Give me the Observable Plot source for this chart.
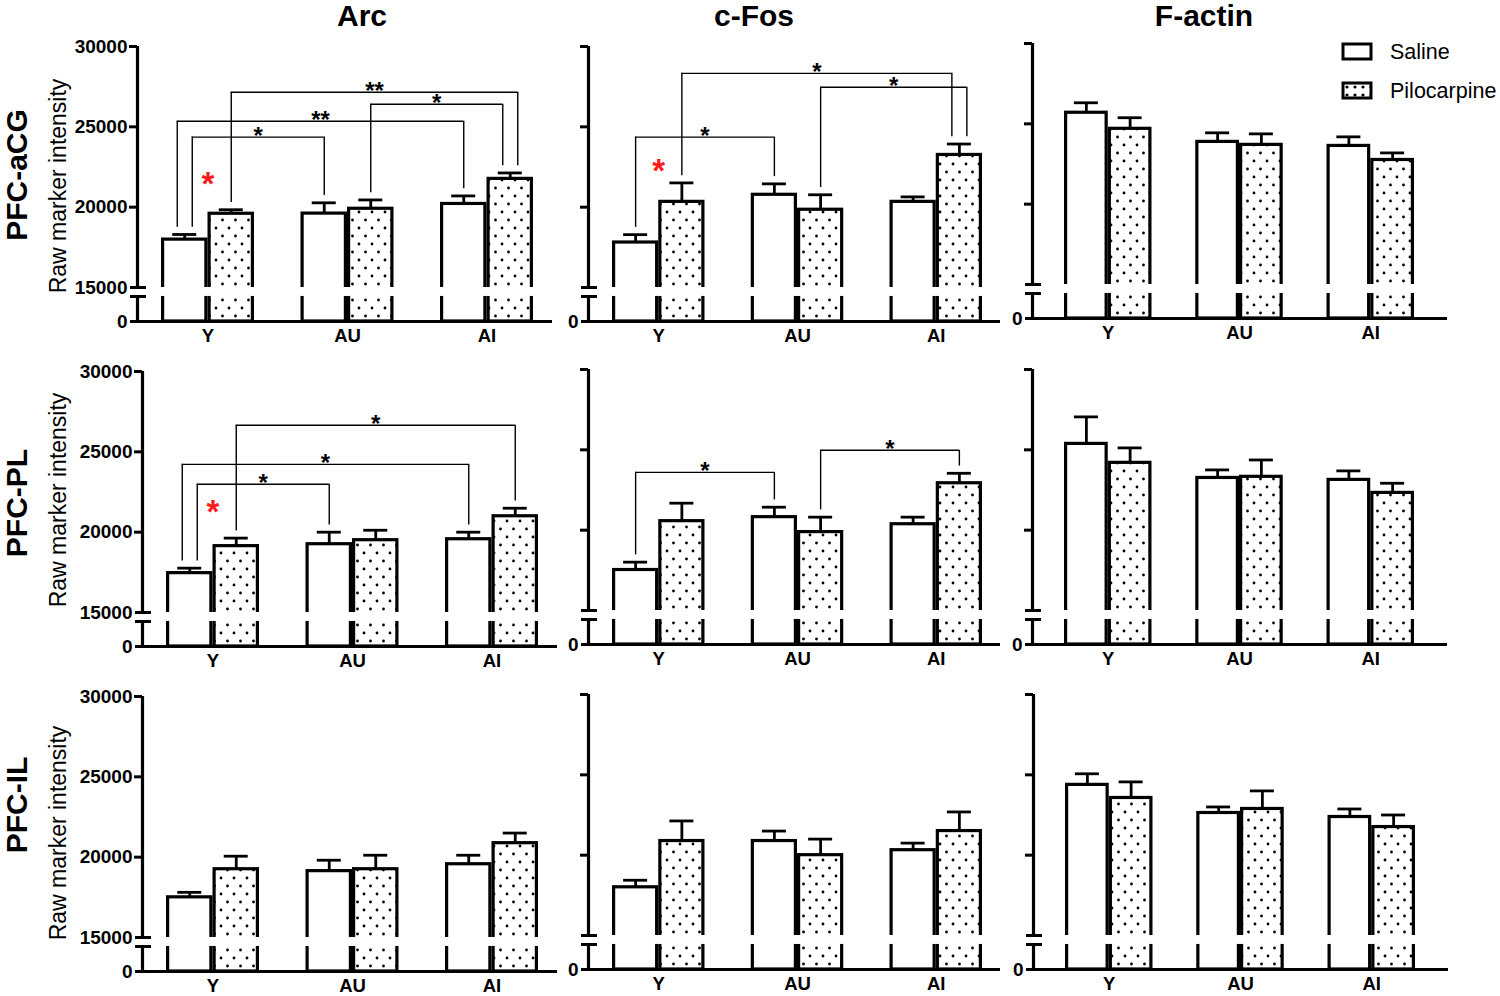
<!DOCTYPE html>
<html>
<head>
<meta charset="utf-8">
<script src="https://cdn.jsdelivr.net/npm/d3@7"></script>
<script src="https://cdn.jsdelivr.net/npm/@observablehq/plot@0.6"></script>
<style>
  html, body { margin: 0; padding: 0; background: #fff; }
  #figure { position: relative; width: 1500px; height: 996px; overflow: hidden; font-family: "Liberation Sans", Arial, sans-serif; }
  .panel { position: absolute; }
  #overlay { position: absolute; left: 0; top: 0; }
</style>
</head>
<body>
<div id="figure">
  <svg id="overlay" width="1500" height="996" xmlns="http://www.w3.org/2000/svg">
    <defs>
      <pattern id="dots" width="13" height="16" patternUnits="userSpaceOnUse">
        <rect width="13" height="16" fill="white"></rect>
        <circle cx="3" cy="4" r="1.4" fill="black"></circle>
        <circle cx="9.5" cy="12" r="1.4" fill="black"></circle>
      </pattern>
      <pattern id="dotsSmall" width="8" height="8" patternUnits="userSpaceOnUse">
        <rect width="8" height="8" fill="white"></rect>
        <circle cx="4" cy="4" r="1.6" fill="black"></circle>
      </pattern>
    </defs>
  </svg>
</div>
<script>
// ---------------- data ----------------
const markers = ["Arc", "c-Fos", "F-actin"];
const regions = ["PFC-aCG", "PFC-PL", "PFC-IL"];
const groups = ["Y", "AU", "AI"];
const treatments = ["Saline", "Pilocarpine"];
const yTicks = [0, 15000, 20000, 25000, 30000];
const yAxisLabel = "Raw marker intensity";

// means and SEM, ordered Y-Saline, Y-Pilocarpine, AU-Saline, AU-Pilocarpine, AI-Saline, AI-Pilocarpine
const arcACGMean    = [17980, 19590, 19600, 19900, 20200, 21760];
const arcACGSem     = [320, 250, 670, 550, 500, 370];
const cfosACGMean   = [17800, 20330, 20770, 19840, 20330, 23250];
const cfosACGSem    = [490, 1180, 680, 930, 310, 680];
const factinACGMean = [25690, 24690, 23875, 23690, 23625, 22750];
const factinACGSem  = [620, 690, 565, 685, 565, 440];

const arcPLMean     = [17450, 19130, 19250, 19500, 19560, 20990];
const arcPLSem      = [310, 500, 750, 620, 440, 500];
const cfosPLMean    = [17520, 20560, 20810, 19880, 20370, 22920];
const cfosPLSem     = [490, 1120, 620, 930, 440, 620];
const factinPLMean  = [25370, 24190, 23250, 23320, 23130, 22320];
const factinPLSem   = [1680, 930, 500, 1050, 560, 600];

const arcILMean     = [17500, 19250, 19130, 19250, 19560, 20870];
const arcILSem      = [310, 810, 680, 870, 560, 630];
const cfosILMean    = [18000, 20880, 20880, 20000, 20310, 21500];
const cfosILSem     = [440, 1250, 620, 1000, 440, 1190];
const factinILMean  = [24375, 23560, 22625, 22875, 22375, 21750];
const factinILSem   = [690, 1000, 375, 1125, 500, 750];

// significance brackets (level = height of the horizontal line, in intensity units)
const arcACGBrackets = [
  {from: ["Y", "Saline"], to: ["AI", "Saline"], level: 25350, label: "**"},
  {from: ["Y", "Saline"], to: ["AU", "Saline"], level: 24360, label: "*"},
  {from: ["AU", "Pilocarpine"], to: ["AI", "Pilocarpine"], level: 26410, label: "*"},
  {from: ["Y", "Pilocarpine"], to: ["AI", "Pilocarpine"], level: 27150, label: "**"}
];
const cfosACGBrackets = [
  {from: ["Y", "Pilocarpine"], to: ["AI", "Pilocarpine"], level: 28330, label: "*"},
  {from: ["AU", "Pilocarpine"], to: ["AI", "Pilocarpine"], level: 27460, label: "*"},
  {from: ["Y", "Saline"], to: ["AU", "Saline"], level: 24360, label: "*"}
];
const arcPLBrackets = [
  {from: ["Y", "Saline"], to: ["AI", "Saline"], level: 24220, label: "*"},
  {from: ["Y", "Saline"], to: ["AU", "Saline"], level: 22980, label: "*"},
  {from: ["Y", "Pilocarpine"], to: ["AI", "Pilocarpine"], level: 26650, label: "*"}
];
const cfosPLBrackets = [
  {from: ["Y", "Saline"], to: ["AU", "Saline"], level: 23600, label: "*"},
  {from: ["AU", "Pilocarpine"], to: ["AI", "Pilocarpine"], level: 24970, label: "*"}
];
// red asterisks (Saline vs Pilocarpine within a group)
const arcACGRed  = [{group: "Y", level: 22000}];
const cfosACGRed = [{group: "Y", level: 22810}];
const arcPLRed   = [{group: "Y", level: 21800}];

// ---------------- layout ----------------
const FONT = '"Liberation Sans", Arial, sans-serif';
const layout = {
  top:   [[46, 46, 43], [371, 369, 369], [696, 694, 694]],
  axisX: [[137, 588, 1032], [142, 588, 1032], [142, 588, 1033]],
  slotOffset: [24, 24, 32],
  slotsWidth: [372, 370, 350],
  frameW: [415, 412, 415]
};
const UPPER = 241, GAP = 9, LOWER = 25;
const ML = 80, MR = 10, MT = 14, MB = 28;
const LOW_TOP = 1500;   // value at the top of the lower axis segment
const LEG_GAP = 450;

const panels = [
  {r: 0, c: 0, mean: arcACGMean, sem: arcACGSem, brackets: arcACGBrackets, red: arcACGRed},
  {r: 0, c: 1, mean: cfosACGMean, sem: cfosACGSem, brackets: cfosACGBrackets, red: cfosACGRed},
  {r: 0, c: 2, mean: factinACGMean, sem: factinACGSem, brackets: [], red: []},
  {r: 1, c: 0, mean: arcPLMean, sem: arcPLSem, brackets: arcPLBrackets, red: arcPLRed},
  {r: 1, c: 1, mean: cfosPLMean, sem: cfosPLSem, brackets: cfosPLBrackets, red: []},
  {r: 1, c: 2, mean: factinPLMean, sem: factinPLSem, brackets: [], red: []},
  {r: 2, c: 0, mean: arcILMean, sem: arcILSem, brackets: [], red: []},
  {r: 2, c: 1, mean: cfosILMean, sem: cfosILSem, brackets: [], red: []},
  {r: 2, c: 2, mean: factinILMean, sem: factinILSem, brackets: [], red: []}
];

function drawPanel(p) {
  const {r, c} = p;
  const fw = layout.frameW[c], so = layout.slotOffset[c], bw = layout.slotsWidth[c] / 8;
  const xLo = -0.5 - so / bw, xHi = 7.5 + (fw - so - 8 * bw) / bw;
  const yBase = MT + UPPER + GAP + LOWER;
  const H = yBase + MB;
  const W = ML + fw + MR;
  const px = n => n / bw;

  const rows = [];
  groups.forEach((g, gi) => treatments.forEach((t, ti) => {
    const k = gi * 2 + ti;
    rows.push({group: g, treatment: t, mean: p.mean[k], sem: p.sem[k], slot: gi * 3 + ti});
  }));
  const find = ([g, t]) => rows.find(d => d.group === g && d.treatment === t);

  const ends = new Map();
  p.brackets.forEach((b, i) => [b.from, b.to].forEach(e => {
    const k = e.join("|");
    if (!ends.has(k)) ends.set(k, []);
    ends.get(k).push(i);
  }));
  const off = (e, i) => {
    const l = ends.get(e.join("|"));
    return l.length > 1 ? (l.indexOf(i) - (l.length - 1) / 2) * px(15) : 0;
  };
  const legs = [], spans = [];
  p.brackets.forEach((b, i) => {
    const A = find(b.from), B = find(b.to);
    const xa = A.slot + off(b.from, i), xb = B.slot + off(b.to, i);
    legs.push({x: xa, y1: A.mean + A.sem + LEG_GAP, y2: b.level});
    legs.push({x: xb, y1: B.mean + B.sem + LEG_GAP, y2: b.level});
    spans.push({x1: xa, x2: xb, y: b.level, label: b.label});
  });
  const reds = p.red.map(s => ({x: groups.indexOf(s.group) * 3 + 0.5, y: s.level}));
  const tickLabels = c === 0 ? yTicks : [0];

  const plot = Plot.plot({
    width: W, height: H,
    marginLeft: ML, marginRight: MR, marginTop: MT, marginBottom: MB,
    style: {background: "transparent", fontFamily: FONT, maxWidth: "none", overflow: "visible"},
    x: {type: "linear", domain: [xLo, xHi], axis: null},
    y: {type: "linear", domain: [0, LOW_TOP, 15000, 30000], range: [yBase, yBase - LOWER, MT + UPPER, MT], axis: null},
    color: {type: "ordinal", domain: treatments, range: ["white", "url(#dots)"]},
    marks: [
      // bars
      Plot.rect(rows, {
        x1: d => d.slot - 0.5, x2: d => d.slot + 0.5, y1: 0, y2: "mean",
        fill: "treatment", stroke: "black", strokeWidth: 3.2, insetLeft: 1.6, insetRight: 1.6
      }),
      // axis break (white gap)
      Plot.rect([0], {x1: () => xLo, x2: () => xHi, y1: () => LOW_TOP + 80, y2: () => 15000, fill: "white"}),
      // error bars
      Plot.ruleX(rows, {x: "slot", y1: "mean", y2: d => d.mean + d.sem, stroke: "black", strokeWidth: 2.8}),
      Plot.ruleY(rows, {y: d => d.mean + d.sem, x1: d => d.slot - px(12), x2: d => d.slot + px(12), stroke: "black", strokeWidth: 2.8}),
      // y axis segments
      Plot.ruleX([[0, LOW_TOP], [15000, 30000]], {x: () => xLo, y1: d => d[0], y2: d => d[1], stroke: "black", strokeWidth: 3.2}),
      // ticks
      Plot.ruleY([20000, 25000, 30000], {y: d => d, x1: () => xLo - px(8), x2: () => xLo, stroke: "black", strokeWidth: 3}),
      // break caps
      Plot.ruleY([15000, LOW_TOP], {y: d => d, x1: () => xLo - px(7), x2: () => xLo + px(9), stroke: "black", strokeWidth: 3}),
      // x axis
      Plot.ruleY([0], {y: d => d, x1: () => xLo - px(7), x2: () => xHi, stroke: "black", strokeWidth: 3.2}),
      // tick labels
      Plot.text(tickLabels, {x: () => xLo, y: d => d, text: d => String(d), dx: -10, textAnchor: "end",
        lineAnchor: "middle", fontWeight: "bold", fontSize: 19, fill: "black"}),
      // group labels
      Plot.text(groups, {x: (g, i) => i * 3 + 0.5, y: () => 0, text: d => d, dy: 15, lineAnchor: "middle",
        fontWeight: "bold", fontSize: 18.5, fill: "black"}),
      // brackets
      Plot.ruleX(legs, {x: "x", y1: "y1", y2: "y2", stroke: "black", strokeWidth: 1.4}),
      Plot.ruleY(spans, {y: "y", x1: "x1", x2: "x2", stroke: "black", strokeWidth: 1.4}),
      Plot.text(spans, {x: d => (d.x1 + d.x2) / 2, y: "y", text: "label", lineAnchor: "bottom", dy: 7,
        fontSize: 24, fontWeight: "bold", fill: "black"}),
      // red asterisks
      Plot.text(reds, {x: "x", y: "y", text: () => "*", lineAnchor: "middle", dy: 9,
        fontSize: 33, fontWeight: "bold", fill: "#ff1a1a"})
    ]
  });
  const div = document.createElement("div");
  div.className = "panel";
  div.style.left = (layout.axisX[r][c] - ML) + "px";
  div.style.top = (layout.top[r][c] - MT) + "px";
  div.style.width = W + "px";
  div.appendChild(plot);
  document.getElementById("figure").appendChild(div);
}
panels.forEach(drawPanel);

// ---------------- titles, row labels, legend ----------------
const ov = d3.select("#overlay");
const colCenters = [362, 754, 1204];
ov.selectAll("text.col").data(markers).join("text").attr("class", "col")
  .attr("x", (d, i) => colCenters[i]).attr("y", 26)
  .attr("text-anchor", "middle").attr("font-family", FONT).attr("font-weight", "bold").attr("font-size", 30)
  .text(d => d);
const rowCenters = [175, 503, 805];
ov.selectAll("text.row").data(regions).join("text").attr("class", "row")
  .attr("transform", (d, i) => `translate(27,${rowCenters[i]}) rotate(-90)`)
  .attr("text-anchor", "middle").attr("font-family", FONT).attr("font-weight", "bold").attr("font-size", 30)
  .text(d => d);
const labCenters = [186, 500, 833];
ov.selectAll("text.ylab").data(labCenters).join("text").attr("class", "ylab")
  .attr("transform", d => `translate(66,${d}) rotate(-90)`)
  .attr("text-anchor", "middle").attr("font-family", FONT).attr("font-size", 23)
  .text(yAxisLabel);
// legend
const legendFill = ["white", "url(#dotsSmall)"];
const legendY = [44, 83];
const lg = ov.selectAll("g.lg").data(treatments).join("g").attr("class", "lg")
  .attr("transform", (d, i) => `translate(1343,${legendY[i]})`);
lg.append("rect").attr("x", 0).attr("y", 0).attr("width", 28).attr("height", 15)
  .attr("fill", (d, i) => legendFill[i]).attr("stroke", "black").attr("stroke-width", 3);
lg.append("text").attr("x", 47).attr("y", 15).attr("font-family", FONT).attr("font-size", 21.5)
  .text(d => d);
</script>
</body>
</html>
